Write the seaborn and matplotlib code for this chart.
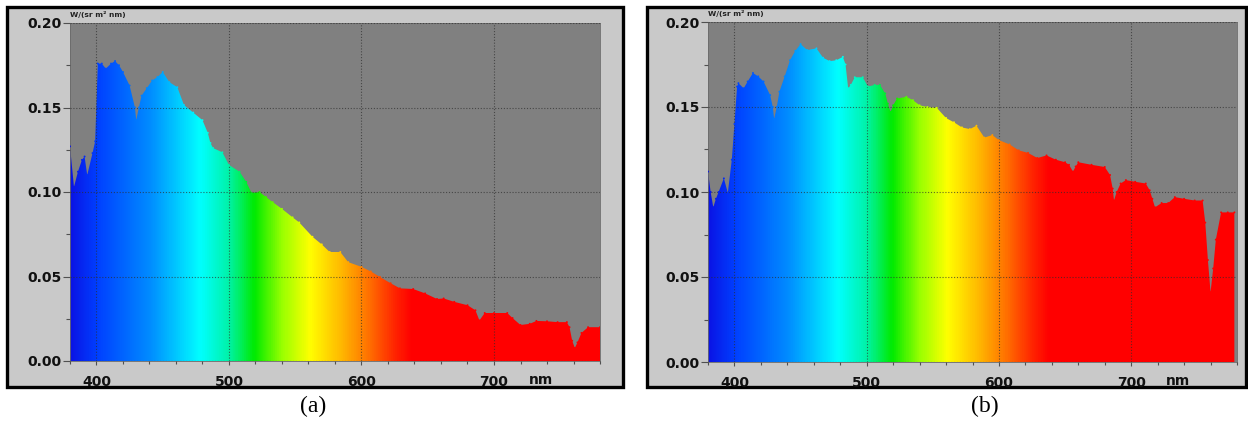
import numpy as np
import matplotlib
matplotlib.use("Agg")
import matplotlib.pyplot as plt
import seaborn as sns
import pandas as pd
from matplotlib.colors import LinearSegmentedColormap
from matplotlib.patches import Rectangle
from matplotlib.ticker import MultipleLocator, FormatStrFormatter

# ---------------- data ----------------
wl_a = [380, 383, 386, 389, 391, 393, 397, 399, 401, 404, 407, 411, 414, 417, 420,
        425, 429, 430, 432, 434, 438, 442, 446, 450, 455, 461, 466, 473, 480, 484,
        486, 488, 495, 500, 508, 513, 517, 523, 528, 533, 540, 548, 553, 563, 570,
        576, 584, 590, 600, 607, 614, 622, 629, 639, 648, 657, 662, 670, 680, 686,
        689, 693, 700, 710, 714, 720, 727, 732, 740, 748, 755, 757, 759, 761, 763,
        766, 771, 780]
rad_a = [0.127, 0.103, 0.112, 0.119, 0.121, 0.110, 0.123, 0.130, 0.176, 0.176, 0.173,
         0.176, 0.1775, 0.175, 0.171, 0.163, 0.150, 0.1425, 0.150, 0.157, 0.1615,
         0.166, 0.168, 0.171, 0.165, 0.162, 0.1515, 0.147, 0.1425, 0.135, 0.129,
         0.126, 0.1235, 0.116, 0.112, 0.106, 0.0995, 0.100, 0.097, 0.094, 0.090,
         0.085, 0.082, 0.0735, 0.069, 0.0645, 0.0645, 0.0585, 0.0557, 0.053, 0.0497,
         0.046, 0.043, 0.0426, 0.040, 0.0367, 0.037, 0.035, 0.033, 0.030, 0.024,
         0.0284, 0.0284, 0.0284, 0.0254, 0.0213, 0.022, 0.0237, 0.0235, 0.023, 0.023,
         0.020, 0.012, 0.0077, 0.011, 0.0166, 0.020, 0.020]

wl_b = [380, 382, 384, 386, 388, 392, 395, 398, 400, 402, 403, 407, 410, 414, 418,
        422, 427, 429, 430, 432, 434, 438, 442, 446, 450, 455, 462, 467, 472, 477,
        482, 484, 486, 488, 491, 497, 501, 506, 510, 514, 516, 518, 520, 523, 530,
        535, 540, 546, 553, 560, 566, 572, 578, 583, 589, 595, 600, 608, 615, 622,
        629, 636, 643, 650, 653, 656, 658, 660, 670, 680, 684, 686, 687, 689, 692,
        696, 703, 711, 714, 716, 718, 723, 728, 733, 740, 748, 754, 756, 758, 760,
        762, 764, 768, 773, 778]
rad_b = [0.112, 0.100, 0.091, 0.096, 0.100, 0.108, 0.0995, 0.119, 0.140, 0.162, 0.164,
         0.161, 0.165, 0.170, 0.168, 0.165, 0.157, 0.150, 0.143, 0.150, 0.159, 0.168,
         0.1775, 0.183, 0.187, 0.1835, 0.1845, 0.179, 0.177, 0.1775, 0.1795, 0.175,
         0.161, 0.163, 0.1675, 0.1675, 0.162, 0.163, 0.163, 0.158, 0.152, 0.147,
         0.151, 0.155, 0.156, 0.154, 0.151, 0.150, 0.1495, 0.1435, 0.141, 0.138,
         0.137, 0.139, 0.132, 0.1335, 0.1305, 0.128, 0.1245, 0.123, 0.120, 0.1215,
         0.119, 0.1175, 0.116, 0.112, 0.115, 0.1175, 0.116, 0.1147, 0.110, 0.102,
         0.095, 0.100, 0.105, 0.107, 0.106, 0.105, 0.101, 0.096, 0.091, 0.0935,
         0.0935, 0.097, 0.096, 0.095, 0.095, 0.082, 0.060, 0.041, 0.055, 0.072,
         0.088, 0.088, 0.088]

x_ticks = [400, 500, 600, 700]
y_ticks = [0.00, 0.05, 0.10, 0.15, 0.20]
panel_labels = ["(a)", "(b)"]
unit_label = "W/(sr m\u00b2 nm)"
x_unit = "nm"

# ---------------- style ----------------
sns.set_theme(style="white")
plt.rcParams["font.family"] = ["DejaVu Sans"]

stops = [(380, (0.04, 0.08, 0.90)), (400, (0.00, 0.25, 1.00)), (440, (0.00, 0.55, 1.00)),
         (478, (0.00, 1.00, 1.00)), (500, (0.00, 0.95, 0.65)), (519, (0.00, 0.92, 0.00)),
         (540, (0.60, 1.00, 0.00)), (561, (1.00, 1.00, 0.00)), (585, (1.00, 0.72, 0.00)),
         (605, (1.00, 0.45, 0.00)), (625, (1.00, 0.15, 0.00)), (638, (1.00, 0.00, 0.00)),
         (780, (1.00, 0.00, 0.00))]
cmap = LinearSegmentedColormap.from_list(
    "spec", [((w - 380) / 400.0, c) for w, c in stops])

fig = plt.figure(figsize=(12.48, 4.24), dpi=100)
fig.patch.set_facecolor("white")
W, H = 1248.0, 424.0


def frame(x0, y0, x1, y1):
    fig.add_artist(Rectangle((x0 / W, 1 - y1 / H), (x1 - x0) / W, (y1 - y0) / H,
                             transform=fig.transFigure, facecolor="#c9c9c9",
                             edgecolor="black", linewidth=2.4, zorder=0))


frame(7, 7, 623, 387)
frame(647, 7, 1246, 387)

axes_px = [(70, 23, 600, 361), (708, 22, 1237, 362)]
data = [(wl_a, rad_a), (wl_b, rad_b)]
cap_x = [313, 985]

for i, ((x0, y0, x1, y1), (wl, rad)) in enumerate(zip(axes_px, data)):
    ax = fig.add_axes([x0 / W, 1 - y1 / H, (x1 - x0) / W, (y1 - y0) / H])
    ax.set_facecolor("#808080")
    df = pd.DataFrame({"wl": wl, "rad": rad})

    grad = np.linspace(380, 780, 801).reshape(1, -1)
    im = ax.imshow(grad, extent=[380, 780, 0, 0.2], aspect="auto", cmap=cmap,
                   vmin=380, vmax=780, origin="lower", interpolation="bilinear", zorder=2)
    poly = ax.fill_between(df["wl"], 0, df["rad"], facecolor="none", edgecolor="none")
    im.set_clip_path(poly.get_paths()[0], transform=ax.transData)
    sns.scatterplot(data=df, x="wl", y="rad", hue="wl", palette=cmap, hue_norm=(380, 780),
                    s=2, linewidth=0, legend=False, ax=ax, zorder=3)

    ax.set_xlim(380, 780)
    ax.set_ylim(0, 0.2)
    ax.set_xticks(x_ticks)
    ax.set_yticks(y_ticks)
    ax.xaxis.set_minor_locator(MultipleLocator(20))
    ax.yaxis.set_minor_locator(MultipleLocator(0.025))
    ax.yaxis.set_major_formatter(FormatStrFormatter("%.2f"))
    ax.set_xlabel("")
    ax.set_ylabel("")
    ax.set_axisbelow(False)
    ax.grid(True, which="major", color="#2e2e2e", linestyle=(0, (1, 1.6)),
            linewidth=0.8, alpha=0.7)
    ax.tick_params(axis="both", which="both", bottom=True, left=True,
                   direction="out", color="#505050", width=0.8)
    ax.tick_params(axis="x", which="major", length=3, pad=7, labelsize=10)
    ax.tick_params(axis="x", which="minor", length=2.5)
    ax.tick_params(axis="y", which="major", length=5, pad=1, labelsize=10)
    ax.tick_params(axis="y", which="minor", length=3)
    for lab in ax.get_xticklabels() + ax.get_yticklabels():
        lab.set_fontweight("bold")
        lab.set_color("#111111")
    for s in ax.spines.values():
        s.set_color("#6a6a6a")
        s.set_linewidth(0.6)

    ax.text(0.888, -0.036, x_unit, transform=ax.transAxes, ha="center", va="top",
            fontsize=10, fontweight="bold", color="#111111")
    ax.text(0.0, 1.024, unit_label, transform=ax.transAxes, ha="left", va="center",
            fontsize=5.4, fontweight="bold", color="#222222")

    fig.text(cap_x[i] / W, 1 - 406 / H, panel_labels[i], ha="center", va="center",
             fontsize=17, family="Liberation Serif", color="black")

fig.savefig("out.png", dpi=100, facecolor="white")
